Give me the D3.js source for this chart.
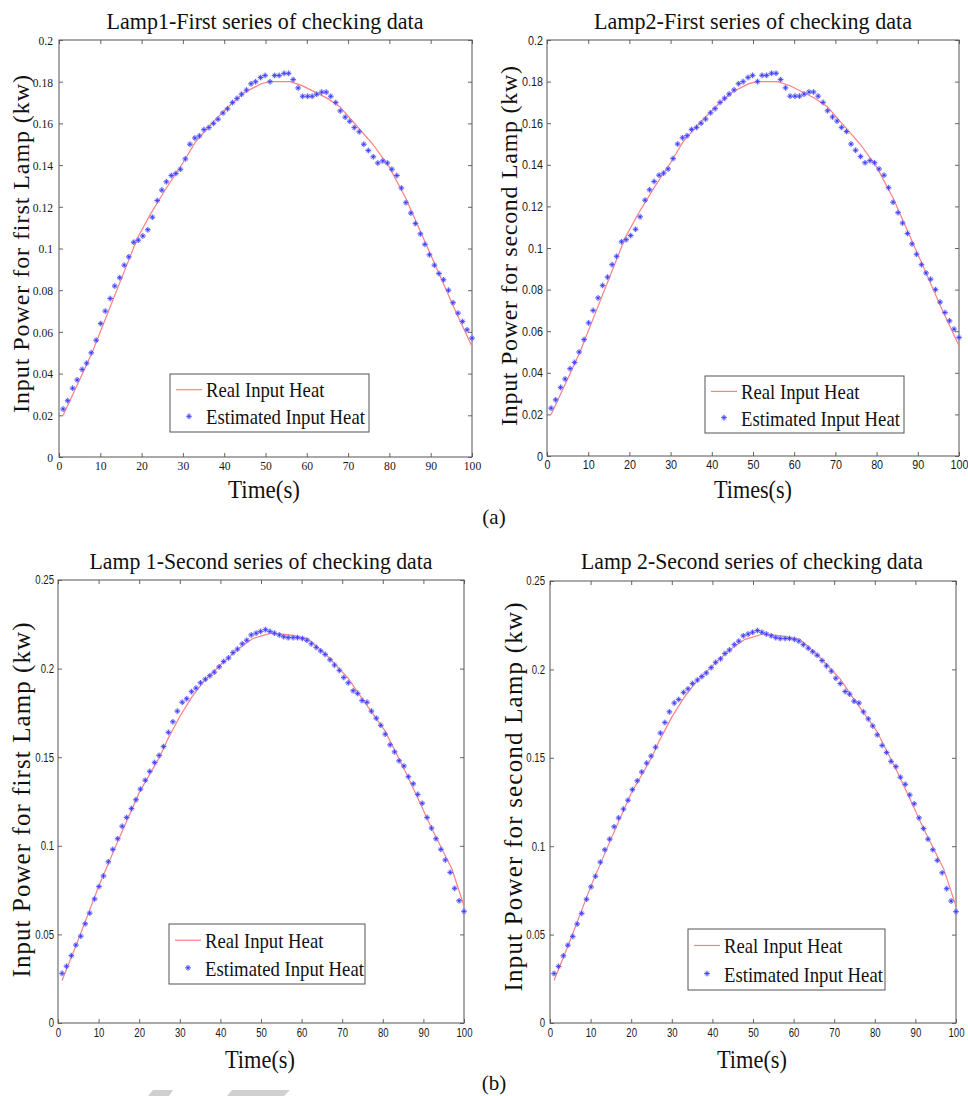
<!DOCTYPE html>
<html>
<head>
<meta charset="utf-8">
<script src="https://cdn.jsdelivr.net/npm/d3@7"></script>
<style>
  body { margin: 0; background: #fff; }
  svg { display: block; }
</style>
</head>
<body>
<svg id="fig" width="968" height="1096"></svg>
<script>
// ── sample times (s), shared by all four panels ──
const sampleTime = [
  1.0, 2.1, 3.3, 4.4, 5.6, 6.7, 7.8, 9.0, 10.1, 11.2,
  12.4, 13.5, 14.7, 15.8, 16.9, 18.1, 19.2, 20.3, 21.5, 22.6,
  23.8, 24.9, 26.0, 27.2, 28.3, 29.4, 30.6, 31.7, 32.9, 34.0,
  35.1, 36.3, 37.4, 38.5, 39.7, 40.8, 42.0, 43.1, 44.2, 45.4,
  46.5, 47.6, 48.8, 49.9, 51.1, 52.2, 53.3, 54.5, 55.6, 56.7,
  57.9, 59.0, 60.2, 61.3, 62.4, 63.6, 64.7, 65.8, 67.0, 68.1,
  69.3, 70.4, 71.5, 72.7, 73.8, 74.9, 76.1, 77.2, 78.4, 79.5,
  80.6, 81.8, 82.9, 84.0, 85.2, 86.3, 87.5, 88.6, 89.7, 90.9,
  92.0, 93.1, 94.3, 95.4, 96.6, 97.7, 98.8, 100.0
];

// ── first series of checking data (kw) ──
const firstEstimated = [
  0.023, 0.027, 0.033, 0.037, 0.042, 0.045, 0.050, 0.056, 0.064, 0.070,
  0.076, 0.082, 0.086, 0.092, 0.096, 0.103, 0.104, 0.106, 0.109, 0.115,
  0.123, 0.128, 0.132, 0.135, 0.136, 0.138, 0.143, 0.150, 0.153, 0.154,
  0.157, 0.158, 0.160, 0.162, 0.165, 0.167, 0.170, 0.172, 0.174, 0.176,
  0.179, 0.180, 0.182, 0.183, 0.180, 0.183, 0.183, 0.184, 0.184, 0.181,
  0.177, 0.173, 0.173, 0.173, 0.174, 0.175, 0.175, 0.173, 0.170, 0.166,
  0.163, 0.161, 0.158, 0.156, 0.150, 0.147, 0.144, 0.141, 0.142, 0.141,
  0.138, 0.135, 0.129, 0.122, 0.117, 0.112, 0.107, 0.102, 0.097, 0.092,
  0.088, 0.085, 0.080, 0.074, 0.069, 0.065, 0.061, 0.057
];
const firstRealTime = [1, 5, 8, 12, 16, 19, 22, 26, 30, 33, 37, 41, 45, 49, 51, 55, 56, 59, 62, 65, 68, 72, 76, 80, 84, 88, 92, 96, 100];
const firstReal = [
  0.020, 0.037, 0.050, 0.070, 0.090, 0.105, 0.116, 0.129, 0.141, 0.151,
  0.160, 0.168, 0.175, 0.179, 0.180, 0.180, 0.180, 0.178, 0.175, 0.172,
  0.168, 0.159, 0.150, 0.139, 0.124, 0.106, 0.088, 0.070, 0.053
];

// ── second series of checking data (kw) ──
const secondEstimated = [
  0.028, 0.032, 0.038, 0.044, 0.049, 0.056, 0.062, 0.070, 0.077, 0.083,
  0.091, 0.098, 0.104, 0.111, 0.116, 0.121, 0.126, 0.132, 0.137, 0.142,
  0.147, 0.151, 0.156, 0.164, 0.170, 0.176, 0.181, 0.183, 0.187, 0.189,
  0.192, 0.194, 0.196, 0.198, 0.201, 0.204, 0.206, 0.209, 0.211, 0.214,
  0.216, 0.219, 0.220, 0.221, 0.222, 0.221, 0.220, 0.219, 0.218, 0.2175,
  0.2175, 0.2175, 0.217, 0.216, 0.214, 0.212, 0.210, 0.208, 0.205, 0.202,
  0.199, 0.195, 0.192, 0.1875, 0.186, 0.182, 0.181, 0.176, 0.172, 0.168,
  0.163, 0.157, 0.153, 0.148, 0.145, 0.139, 0.135, 0.129, 0.124, 0.116,
  0.110, 0.104, 0.098, 0.092, 0.085, 0.076, 0.069, 0.063
];
const secondRealTime = [1, 5, 10, 15, 20, 25, 27, 30, 33, 36, 40, 44, 48, 52.5, 57, 61.5, 66, 71.5, 74, 80.5, 86, 92, 97, 100];
const secondReal = [
  0.024, 0.047, 0.077, 0.104, 0.130, 0.150, 0.160, 0.173, 0.184, 0.193,
  0.202, 0.2105, 0.217, 0.220, 0.219, 0.217, 0.208, 0.1945, 0.186, 0.165,
  0.140, 0.110, 0.087, 0.066
];

// ── ticks ──
const xTicks = [0, 10, 20, 30, 40, 50, 60, 70, 80, 90, 100];
const yTicksFirst = [0, 0.02, 0.04, 0.06, 0.08, 0.1, 0.12, 0.14, 0.16, 0.18, 0.2];
const yTicksSecond = [0, 0.05, 0.1, 0.15, 0.2, 0.25];

const legendLabels = ["Real Input Heat", "Estimated Input Heat"];

const SERIF = "'Liberation Serif','Times New Roman',serif";
const SANS = "'Liberation Sans',Arial,sans-serif";
const RED = "#ff8080";
const BLUE = "#3030ff";

const svg = d3.select("#fig");

// condensed look of the scanned figure: shrink each text to k of its natural width
function squeeze(sel, k) {
  sel.each(function() {
    const w = this.getComputedTextLength();
    d3.select(this).attr("textLength", w * k).attr("lengthAdjust", "spacingAndGlyphs");
  });
}

// MATLAB '*' marker
function starPath(cx, cy) {
  const a = 2.8, b = 1.8;
  return `M${cx - a},${cy}H${cx + a}M${cx},${cy - a}V${cy + a}` +
    `M${cx - b},${cy - b}L${cx + b},${cy + b}M${cx - b},${cy + b}L${cx + b},${cy - b}`;
}

const panels = [
  {
    box: { left: 59, right: 472, top: 40, bottom: 457 },
    yMax: 0.2, yTicks: yTicksFirst,
    tickFont: SERIF, tickSize: 13.5, tickSqueeze: 0.86, xPad: 3, yPad: 6,
    title: "Lamp1-First series of checking data", titleX: 265, titleY: 29, titleW: 317,
    ylabel: "Input Power for first Lamp (kw)", ylabX: 29, ylabY: 244, ylabW: 338, ylabSize: 24,
    xlabel: "Time(s)", xlabX: 264, xlabY: 498, xlabW: 72,
    legend: { x: 170, y: 374, w: 199, h: 58 },
    est: firstEstimated, realT: firstRealTime, realV: firstReal
  },
  {
    box: { left: 547, right: 959, top: 40, bottom: 456 },
    yMax: 0.2, yTicks: yTicksFirst,
    tickFont: SANS, tickSize: 12.5, tickSqueeze: 0.86, xPad: 4, yPad: 4,
    title: "Lamp2-First series of checking data", titleX: 753, titleY: 29, titleW: 318,
    ylabel: "Input Power for second Lamp (kw)", ylabX: 517, ylabY: 246, ylabW: 360, ylabSize: 24,
    xlabel: "Times(s)", xlabX: 753, xlabY: 498, xlabW: 78,
    legend: { x: 705, y: 376, w: 199, h: 57 },
    est: firstEstimated, realT: firstRealTime, realV: firstReal
  },
  {
    box: { left: 58, right: 464, top: 580, bottom: 1023 },
    yMax: 0.25, yTicks: yTicksSecond,
    tickFont: SANS, tickSize: 12, tickSqueeze: 0.8, xPad: 5, yPad: 4,
    title: "Lamp 1-Second series of checking data", titleX: 261, titleY: 569, titleW: 343,
    ylabel: "Input Power for first Lamp (kw)", ylabX: 30, ylabY: 800, ylabW: 355, ylabSize: 25,
    xlabel: "Time(s)", xlabX: 260, xlabY: 1068, xlabW: 70,
    legend: { x: 169, y: 924, w: 196, h: 60 },
    est: secondEstimated, realT: secondRealTime, realV: secondReal
  },
  {
    box: { left: 550, right: 956, top: 581, bottom: 1023 },
    yMax: 0.25, yTicks: yTicksSecond,
    tickFont: SANS, tickSize: 12, tickSqueeze: 0.8, xPad: 5, yPad: 5,
    title: "Lamp 2-Second series of checking data", titleX: 752, titleY: 569, titleW: 342,
    ylabel: "Input Power for second Lamp (kw)", ylabX: 522, ylabY: 797, ylabW: 389, ylabSize: 25,
    xlabel: "Time(s)", xlabX: 752, xlabY: 1068, xlabW: 70,
    legend: { x: 688, y: 929, w: 197, h: 61 },
    est: secondEstimated, realT: secondRealTime, realV: secondReal
  }
];

const fmt = d => String(+d.toFixed(3));

function drawPanel(p) {
  const b = p.box;
  const x = d3.scaleLinear().domain([0, 100]).range([b.left, b.right]);
  const y = d3.scaleLinear().domain([0, p.yMax]).range([b.bottom, b.top]);
  const g = svg.append("g");

  // ── axes: MATLAB box with inward ticks on all four sides ──
  const axB = g.append("g").attr("transform", `translate(0,${b.bottom})`)
    .call(d3.axisBottom(x).tickValues(xTicks).tickSize(-4).tickPadding(p.xPad).tickFormat(fmt));
  const axL = g.append("g").attr("transform", `translate(${b.left},0)`)
    .call(d3.axisLeft(y).tickValues(p.yTicks).tickSize(-4).tickPadding(p.yPad).tickFormat(fmt));
  g.append("g").attr("transform", `translate(0,${b.top})`)
    .call(d3.axisTop(x).tickValues(xTicks).tickSize(-4).tickFormat(""));
  g.append("g").attr("transform", `translate(${b.right},0)`)
    .call(d3.axisRight(y).tickValues(p.yTicks).tickSize(-4).tickFormat(""));

  g.selectAll(".domain").remove();
  g.selectAll(".tick line").attr("stroke", "#666");
  g.append("rect")
    .attr("x", b.left).attr("y", b.top)
    .attr("width", b.right - b.left).attr("height", b.bottom - b.top)
    .attr("fill", "none").attr("stroke", "#555").attr("stroke-width", 1);

  [axB, axL].forEach(ax => {
    ax.selectAll("text")
      .attr("fill", "#1a1a1a")
      .style("font-family", p.tickFont)
      .style("font-size", p.tickSize + "px");
    squeeze(ax.selectAll("text"), p.tickSqueeze);
  });

  // ── real input heat (line) ──
  const realPts = p.realT.map((t, i) => [t, p.realV[i]]);
  g.append("path")
    .datum(realPts)
    .attr("fill", "none")
    .attr("stroke", RED)
    .attr("stroke-width", 1.2)
    .attr("d", d3.line().x(d => x(d[0])).y(d => y(d[1])));

  // ── estimated input heat (stars) ──
  const est = sampleTime.map((t, i) => [t, p.est[i]]);
  g.append("g").selectAll("path")
    .data(est)
    .join("path")
    .attr("d", d => starPath(x(d[0]), y(d[1])))
    .attr("stroke", "#b4b4ff").attr("stroke-width", 2.4).attr("opacity", 0.5);
  g.append("g").selectAll("path")
    .data(est)
    .join("path")
    .attr("d", d => starPath(x(d[0]), y(d[1])))
    .attr("stroke", BLUE).attr("stroke-width", 0.75);

  // ── title and axis labels ──
  g.append("text")
    .attr("x", p.titleX).attr("y", p.titleY)
    .attr("text-anchor", "middle")
    .attr("textLength", p.titleW).attr("lengthAdjust", "spacingAndGlyphs")
    .style("font-family", SERIF).style("font-size", "24px").attr("fill", "#111")
    .text(p.title);

  g.append("text")
    .attr("transform", `translate(${p.ylabX},${p.ylabY}) rotate(-90)`)
    .attr("text-anchor", "middle")
    .attr("textLength", p.ylabW).attr("lengthAdjust", "spacing")
    .style("font-family", SERIF).style("font-size", p.ylabSize + "px").attr("fill", "#111")
    .text(p.ylabel);

  g.append("text")
    .attr("x", p.xlabX).attr("y", p.xlabY)
    .attr("text-anchor", "middle")
    .attr("textLength", p.xlabW).attr("lengthAdjust", "spacingAndGlyphs")
    .style("font-family", SERIF).style("font-size", "26px").attr("fill", "#111")
    .text(p.xlabel);

  // ── legend ──
  const L = p.legend;
  const lg = g.append("g").attr("transform", `translate(${L.x},${L.y})`);
  lg.append("rect").attr("width", L.w).attr("height", L.h)
    .attr("fill", "#fff").attr("stroke", "#555").attr("stroke-width", 1);
  lg.append("line")
    .attr("x1", 6).attr("x2", 32)
    .attr("y1", L.h * 0.27).attr("y2", L.h * 0.27)
    .attr("stroke", RED).attr("stroke-width", 1.2);
  lg.append("path").attr("d", starPath(19, L.h * 0.73))
    .attr("stroke", "#b4b4ff").attr("stroke-width", 2.4).attr("opacity", 0.5);
  lg.append("path").attr("d", starPath(19, L.h * 0.73))
    .attr("stroke", BLUE).attr("stroke-width", 0.75);
  const lt = lg.selectAll("text.leg")
    .data(legendLabels)
    .join("text")
    .attr("class", "leg")
    .attr("x", 36)
    .attr("y", (d, i) => L.h * (i === 0 ? 0.4 : 0.87))
    .style("font-family", SERIF).style("font-size", "22px").attr("fill", "#111")
    .text(d => d);
  squeeze(lt, 0.85);
}

panels.forEach(drawPanel);

// ── sub-figure letters ──
svg.selectAll("text.sub")
  .data([["(a)", 524], ["(b)", 1090]])
  .join("text")
  .attr("class", "sub")
  .attr("x", 494).attr("y", d => d[1])
  .attr("text-anchor", "middle")
  .style("font-family", SERIF).style("font-size", "21px").attr("fill", "#111")
  .text(d => d[0]);

// faint watermark fragments at the page bottom
svg.append("g").attr("fill", "#d0d0d0")
  .selectAll("polygon")
  .data(["148,1096 153,1090 173,1090 169,1096", "227,1096 232,1090 290,1090 284,1096"])
  .join("polygon")
  .attr("points", d => d);
</script>
</body>
</html>
